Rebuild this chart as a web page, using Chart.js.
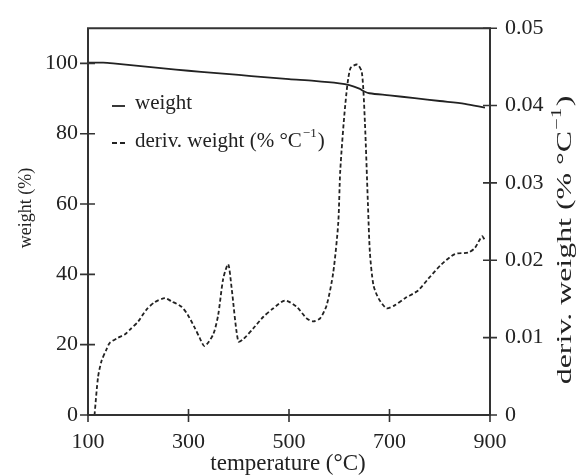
<!DOCTYPE html>
<html>
<head>
<meta charset="utf-8">
<script src="https://cdn.jsdelivr.net/npm/chart.js@4/dist/chart.umd.min.js"></script>
<style>
  html, body { margin: 0; padding: 0; background: #fff; }
</style>
</head>
<body>
<canvas id="myChart" width="579" height="476"></canvas>
<script>
const xTicks = [100, 300, 500, 700, 900];
const weightTicks = [0, 20, 40, 60, 80, 100];
const derivTicks = [0, 0.01, 0.02, 0.03, 0.04, 0.05];

// weight (%) vs temperature
const weightTemp = [100, 130, 150, 200, 250, 300, 350, 400, 450, 500, 550, 600, 620, 640, 650, 660, 700, 750, 800, 850, 890];
const weightPct = [100.2, 100.2, 100, 99.3, 98.6, 97.9, 97.3, 96.7, 96.1, 95.5, 95.0, 94.3, 93.8, 92.8, 92.0, 91.5, 90.9, 90.1, 89.3, 88.5, 87.4];

// deriv. weight (% per degC) vs temperature
const derivTemp = [113, 120, 127, 137, 143, 160, 173, 183, 200, 216, 233, 253, 266, 286, 299, 313, 322, 332, 349, 359, 369, 379, 386, 399, 409, 429, 449, 469, 492, 515, 535, 548, 562, 575, 588, 598, 602, 612, 622, 636, 645, 651, 657, 661, 668, 678, 694, 711, 731, 757, 777, 804, 830, 857, 870, 884, 889];
const derivVal = [0, 0.0049, 0.0070, 0.0085, 0.0093, 0.0100, 0.0104, 0.0110, 0.0121, 0.0136, 0.0146, 0.0151, 0.0147, 0.0140, 0.0129, 0.0112, 0.0100, 0.0089, 0.0104, 0.0129, 0.0176, 0.0195, 0.0163, 0.0095, 0.0098, 0.0112, 0.0127, 0.0138, 0.0148, 0.0140, 0.0125, 0.0121, 0.0125, 0.0142, 0.0184, 0.0248, 0.0316, 0.0401, 0.0448, 0.0453, 0.0443, 0.0379, 0.0274, 0.0210, 0.0168, 0.0151, 0.0138, 0.0142, 0.0151, 0.0161, 0.0176, 0.0195, 0.0208, 0.0210, 0.0216, 0.0231, 0.0227];

const serif = '"Liberation Serif", "DejaVu Serif", serif';
const ink = '#222';

function pairs(xs, ys) {
  return xs.map((x, i) => ({ x: x, y: ys[i] }));
}

// text with a superscript part: base + sup + tail, starting at x
function supText(ctx, x, y, base, sup, tail, size, draw) {
  ctx.font = size + 'px ' + serif;
  const w1 = ctx.measureText(base).width;
  const w3 = ctx.measureText(tail).width;
  ctx.font = Math.round(size * 0.62) + 'px ' + serif;
  const w2 = ctx.measureText(sup).width;
  if (draw) {
    ctx.font = size + 'px ' + serif;
    ctx.fillText(base, x, y);
    ctx.font = Math.round(size * 0.62) + 'px ' + serif;
    ctx.fillText(sup, x + w1 + 1, y - size * 0.33);
    ctx.font = size + 'px ' + serif;
    ctx.fillText(tail, x + w1 + w2 + 2, y);
  }
  return w1 + w2 + w3 + 2;
}

const frame = {
  id: 'frame',
  afterDraw(chart) {
    const { ctx, chartArea: a, scales } = chart;
    ctx.save();
    ctx.strokeStyle = '#333';
    ctx.lineWidth = 2;
    ctx.lineCap = 'square';
    ctx.beginPath();
    ctx.moveTo(a.left, a.top); ctx.lineTo(a.right, a.top);
    ctx.moveTo(a.left, a.top); ctx.lineTo(a.left, a.bottom);
    ctx.moveTo(a.right, a.top); ctx.lineTo(a.right, a.bottom);
    ctx.moveTo(a.left, a.bottom); ctx.lineTo(a.right, a.bottom);
    ctx.stroke();

    ctx.lineWidth = 1.6;
    ctx.lineCap = 'butt';
    ctx.beginPath();
    xTicks.forEach(v => {
      const x = scales.x.getPixelForValue(v);
      ctx.moveTo(x, a.bottom - 6); ctx.lineTo(x, a.bottom + 7);
    });
    weightTicks.forEach(v => {
      const y = scales.y.getPixelForValue(v);
      ctx.moveTo(a.left - 8, y); ctx.lineTo(a.left + 7, y);
    });
    derivTicks.forEach(v => {
      const y = scales.y2.getPixelForValue(v);
      ctx.moveTo(a.right - 7, y); ctx.lineTo(a.right + 7, y);
    });
    ctx.stroke();

    ctx.fillStyle = ink;
    ctx.textBaseline = 'middle';

    // x title
    ctx.font = '23px ' + serif;
    ctx.textAlign = 'center';
    ctx.fillText('temperature (°C)', 288, 464);

    // left title
    ctx.save();
    ctx.translate(26, 208);
    ctx.rotate(-Math.PI / 2);
    ctx.font = '18px ' + serif;
    ctx.fillText('weight (%)', 0, 0);
    ctx.restore();

    // right title (stretched along its length like the original)
    ctx.save();
    ctx.textAlign = 'left';
    ctx.translate(565, 240);
    ctx.rotate(-Math.PI / 2);
    ctx.scale(1.45, 1);
    const tw = supText(ctx, 0, 0, 'deriv. weight (% °C', '−1', ')', 22, false);
    supText(ctx, -tw / 2, 0, 'deriv. weight (% °C', '−1', ')', 22, true);
    ctx.restore();

    // legend
    ctx.textAlign = 'left';
    ctx.font = '21px ' + serif;
    ctx.fillText('weight', 135, 103);
    supText(ctx, 135, 141, 'deriv. weight (% °C', '−1', ')', 21, true);
    ctx.strokeStyle = ink;
    ctx.lineWidth = 1.8;
    ctx.beginPath();
    ctx.moveTo(112, 106); ctx.lineTo(125, 106);
    ctx.stroke();
    ctx.setLineDash([5, 3]);
    ctx.beginPath();
    ctx.moveTo(112, 143); ctx.lineTo(125, 143);
    ctx.stroke();
    ctx.restore();
  }
};

const ctx = document.getElementById('myChart').getContext('2d');
const myChart = new Chart(ctx, {
  type: 'line',
  data: {
    datasets: [
      {
        label: 'weight',
        data: pairs(weightTemp, weightPct),
        yAxisID: 'y',
        borderColor: ink,
        borderWidth: 1.8,
        pointRadius: 0,
        tension: 0.3
      },
      {
        label: 'deriv. weight',
        data: pairs(derivTemp, derivVal),
        yAxisID: 'y2',
        borderColor: ink,
        borderWidth: 1.8,
        borderDash: [4, 2.5],
        pointRadius: 0,
        tension: 0.25
      }
    ]
  },
  options: {
    responsive: false,
    animation: false,
    layout: { padding: { top: 22, left: 0, right: 0, bottom: 0 } },
    plugins: { legend: { display: false }, tooltip: { enabled: false } },
    scales: {
      x: {
        type: 'linear',
        min: 100,
        max: 900,
        grid: { display: false, drawTicks: false },
        border: { display: false },
        afterBuildTicks: s => { s.ticks = xTicks.map(v => ({ value: v })); },
        afterFit: s => { s.height = 61; },
        ticks: { color: ink, padding: 14, maxRotation: 0, font: { family: serif, size: 22 } }
      },
      y: {
        position: 'left',
        min: 0,
        max: 110,
        grid: { display: false, drawTicks: false },
        border: { display: false },
        afterBuildTicks: s => { s.ticks = weightTicks.map(v => ({ value: v })); },
        afterFit: s => { s.width = 88; },
        ticks: { color: ink, padding: 10, font: { family: serif, size: 22 } }
      },
      y2: {
        position: 'right',
        min: 0,
        max: 0.05,
        grid: { display: false, drawTicks: false },
        border: { display: false },
        afterBuildTicks: s => { s.ticks = derivTicks.map(v => ({ value: v })); },
        afterFit: s => { s.width = 89; },
        ticks: {
          color: ink,
          padding: 15,
          font: { family: serif, size: 22 },
          callback: v => v === 0 ? '0' : v.toFixed(2)
        }
      }
    }
  },
  plugins: [frame]
});
</script>
</body>
</html>
